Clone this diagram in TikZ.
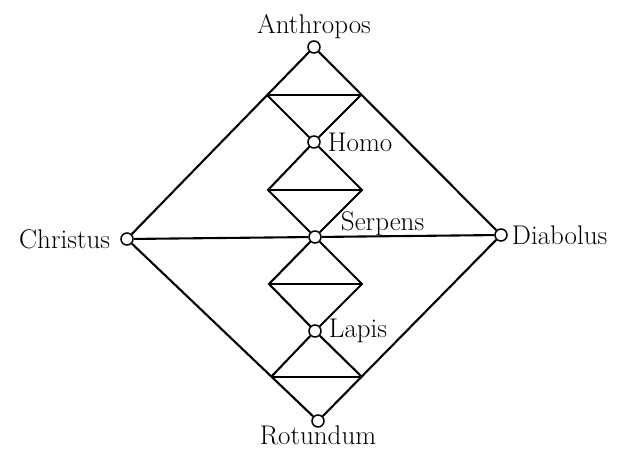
\documentclass[tikz,border=0pt]{standalone}
\usetikzlibrary{positioning}

\begin{document}
\begin{tikzpicture}[
    x=1pt, y=-1pt,
    pole/.style={circle, draw, line width=1.5pt, fill=white, inner sep=0pt, minimum size=12pt},
    link/.style={line width=2.1pt},
    every label/.style={font=\fontsize{27}{32}\selectfont, inner sep=1pt}
]
    \useasboundingbox (0,0) rectangle (623,450);

    % the four poles of the big diamond
    \node [pole, label={[label distance=0pt]above:Anthropos}] (anth) at (314,47) {};
    \node [pole, label={[label distance=9pt]left:Christus}] (chr) at (127,239) {};
    \node [pole, label={[label distance=3pt]right:Diabolus}] (dia) at (501,235) {};
    \node [pole, label={[label distance=-3pt]below:Rotundum}] (rot) at (318,421) {};

    % the inner poles
    \node [pole, label={[label distance=6pt]right:Homo}] (homo) at (314,142) {};
    \node [pole, label={[anchor=base west, xshift=18pt, yshift=7pt]east:Serpens}] (serp) at (315,237) {};
    \node [pole, label={[label distance=6pt]right:Lapis}] (lapis) at (315,331) {};

    % ends of the bars
    \coordinate (b1l) at (267,95);  \coordinate (b1r) at (361,95);
    \coordinate (b2l) at (268,190); \coordinate (b2r) at (362,190);
    \coordinate (b3l) at (269,284); \coordinate (b3r) at (362,284);
    \coordinate (b4l) at (271,377); \coordinate (b4r) at (362,377);

    \begin{scope}[link]
        \draw (anth) -- (chr) -- (rot) -- (dia) -- (anth);
        \draw (chr) -- (serp) -- (dia);
        \draw (b1l) -- (homo) -- (b2r) -- (serp) -- (b3l) -- (lapis) -- (b4r);
        \draw (b1r) -- (homo) -- (b2l) -- (serp) -- (b3r) -- (lapis) -- (b4l);
        \draw (b1l) -- (b1r);
        \draw (b2l) -- (b2r);
        \draw (b3l) -- (b3r);
        \draw (b4l) -- (b4r);
    \end{scope}
\end{tikzpicture}
\end{document}
